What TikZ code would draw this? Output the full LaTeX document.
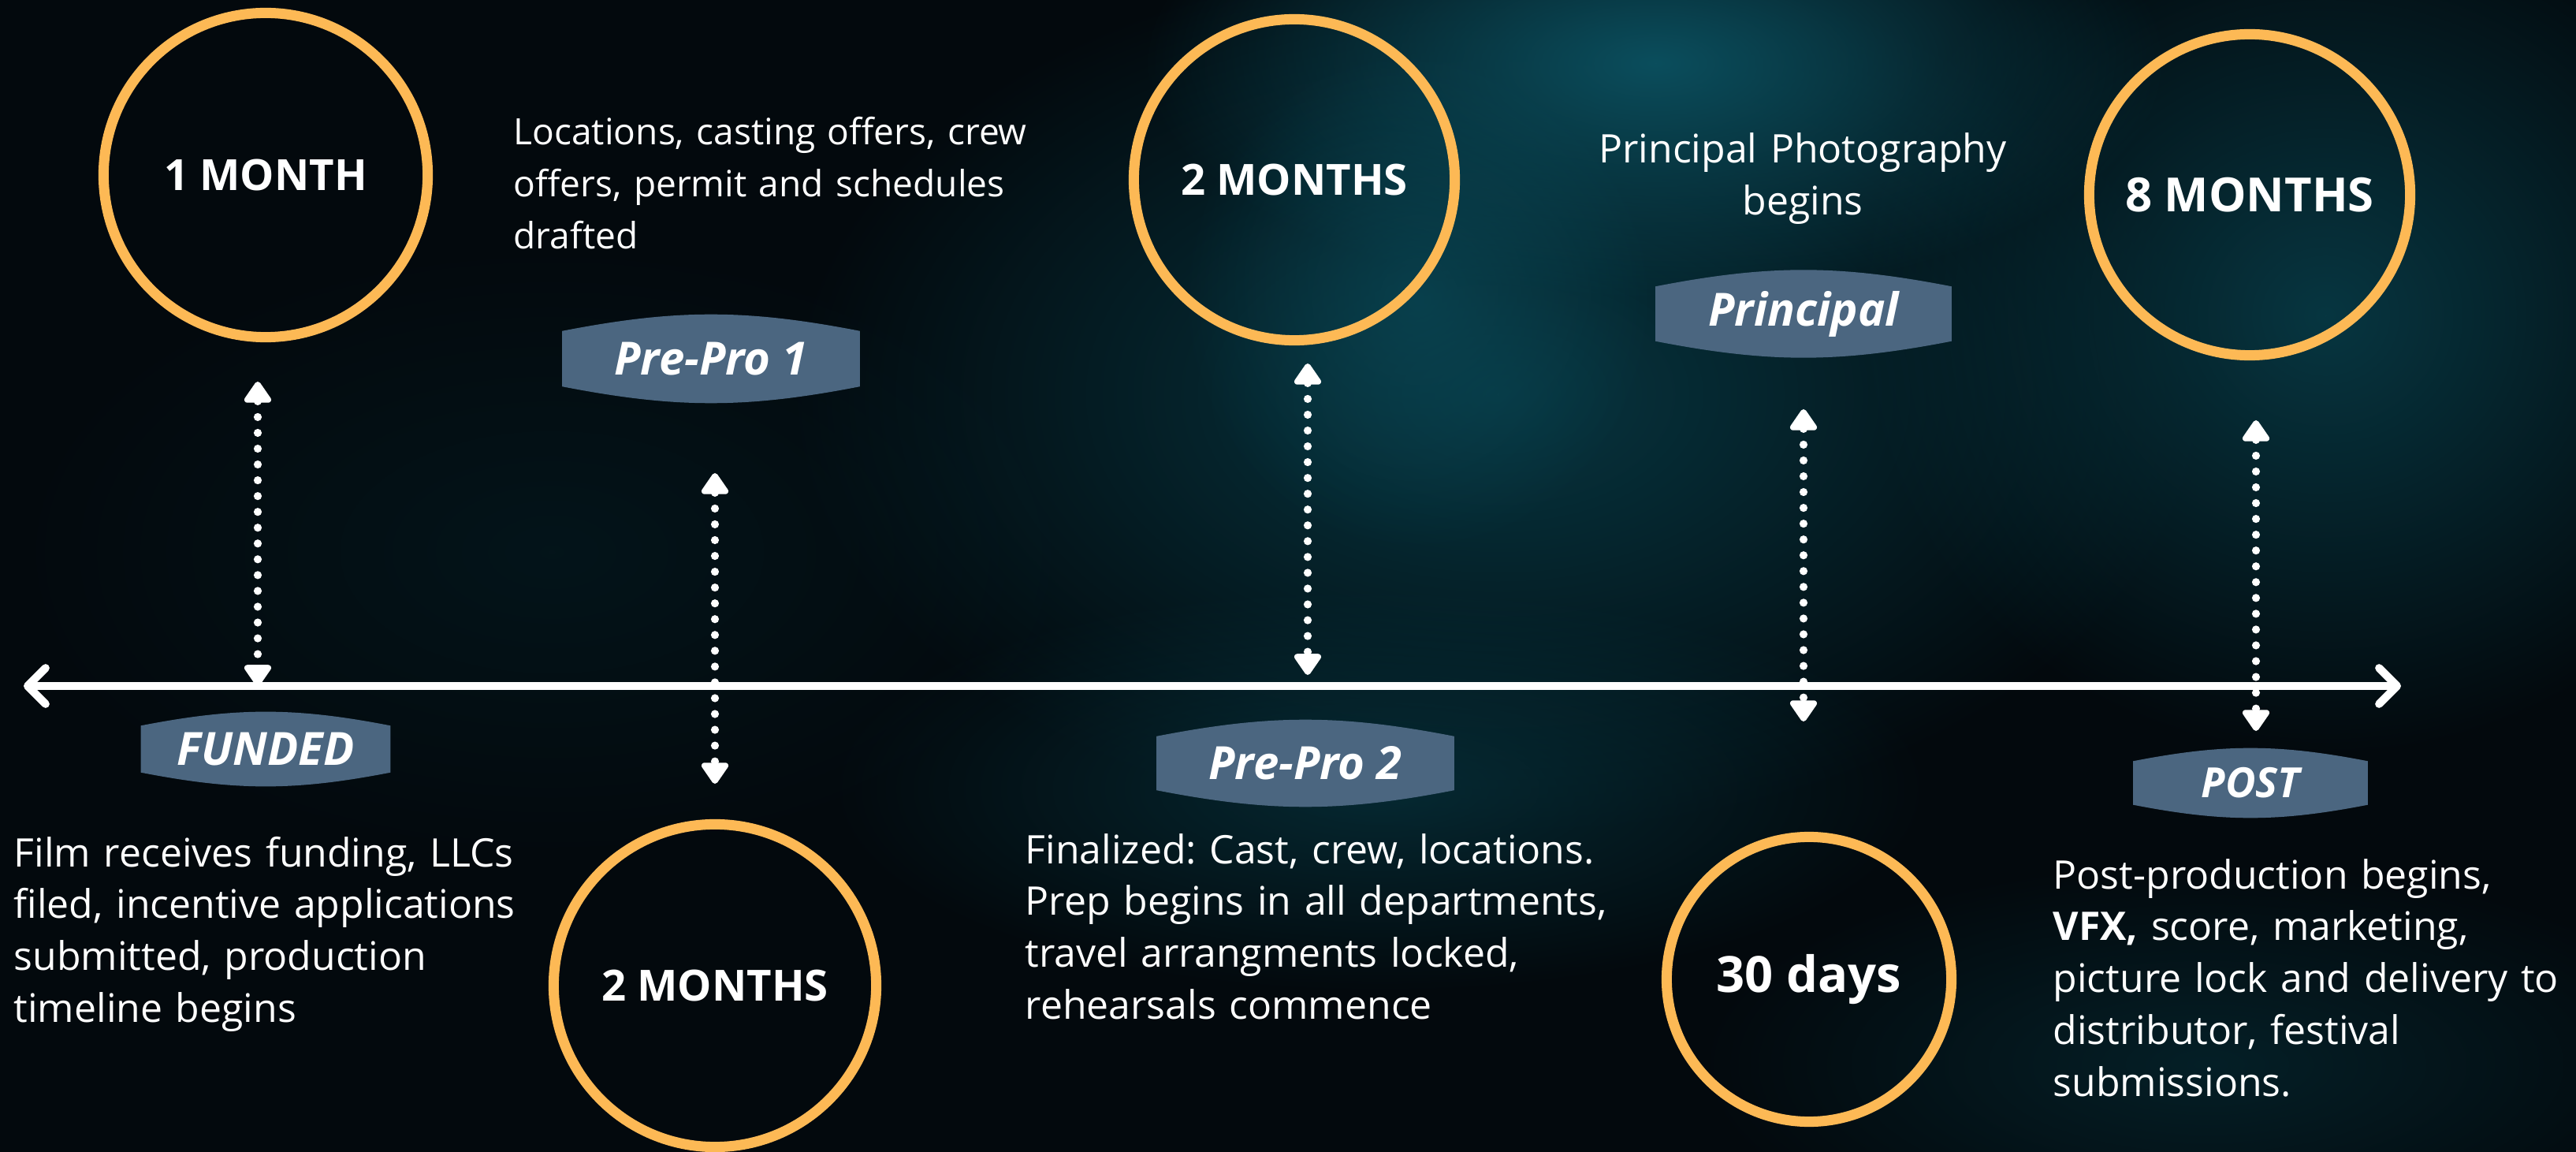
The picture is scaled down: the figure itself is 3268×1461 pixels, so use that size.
\documentclass[tikz,border=0pt]{standalone}
\usepackage{fontspec}
\setmainfont{Open Sans}
\usetikzlibrary{arrows.meta,fadings,backgrounds}
\pgfdeclarelayer{sky}
\pgfsetlayers{sky,background,main}
\tikzfading[name=glow,inner color=transparent!0,outer color=transparent!100]
\frenchspacing

\definecolor{night}{HTML}{03090D}
\definecolor{deepteal}{HTML}{0B4E5D}
\definecolor{midteal}{HTML}{073641}
\definecolor{ring}{HTML}{FDB955}
\definecolor{slate}{HTML}{4B6680}

\tikzset{
  period/.style={circle,draw=ring,line width=3.7pt,minimum size=#1,inner sep=0pt,
    text=white,font=\bfseries\fontsize{15.5pt}{18pt}\selectfont},
  tag/.style 2 args={minimum width=#1,minimum height=#2,inner sep=0pt,text=white,
    font=\bfseries\itshape\fontsize{16.5pt}{18pt}\selectfont},
  blurb/.style={anchor=base west,text width=8cm,align=left,inner sep=0pt,text=white,
    font=\fontsize{14.2pt}{18.7pt}\selectfont},
  link/.style={white,line width=2.9pt,line cap=round,dash pattern=on 0pt off 5.7pt,
    >={Triangle[width=11pt,length=8.5pt,round]},<->},
  timeline/.style={white,line width=2.85pt,line cap=round,
    >={Straight Barb[length=6.5pt,width=13pt,round]},<->},
}

\begin{document}
\begin{tikzpicture}[x=0.01cm,y=-0.01cm]
\useasboundingbox (0,0) rectangle (3268,1461);
\begin{pgfonlayer}{sky}
\begin{scope}
\clip (0,0) rectangle (3268,1461);
\fill[night] (0,0) rectangle (3268,1461);
\fill[midteal,path fading=glow] (1900,500) ellipse (900 and 560);
\fill[midteal,path fading=glow] (2950,400) ellipse (600 and 560);
\fill[midteal,path fading=glow,opacity=.7] (1750,1000) ellipse (700 and 260);
\fill[midteal,path fading=glow,opacity=.5] (2800,1350) ellipse (650 and 260);
\fill[midteal,path fading=glow,opacity=.25] (700,700) ellipse (700 and 400);
\fill[deepteal,path fading=glow] (2100,80) ellipse (650 and 300);
\fill[deepteal,path fading=glow,opacity=.6] (1800,380) ellipse (300 and 320);
\end{scope}
\end{pgfonlayer}

\node[period=4.11cm] (m1) at (337,222) {1 MONTH};
\node[period=4.09cm] (m2) at (907,1250) {2 MONTHS};
\node[period=4.07cm] (m3) at (1642,228) {2 MONTHS};
\node[period=3.61cm,font=\bfseries\fontsize{18pt}{20pt}\selectfont] (d30) at (2295,1242) {30 days};
\node[period=4.07cm,font=\bfseries\fontsize{17pt}{20pt}\selectfont] (m8) at (2854,247) {8 MONTHS};

\node[tag={3.15cm}{.58cm}] (funded) at (337,950) {FUNDED};
\node[tag={3.76cm}{.69cm}] (prepro1) at (902,455) {Pre-Pro 1};
\node[tag={3.76cm}{.67cm}] (prepro2) at (1656,968) {Pre-Pro 2};
\node[tag={3.74cm}{.68cm}] (principal) at (2288,398) {Principal};
\node[tag={2.96cm}{.54cm},font=\bfseries\itshape\fontsize{15pt}{18pt}\selectfont] (post) at (2855,993) {POST};
\begin{scope}[on background layer]
\foreach \t in {funded,prepro1,prepro2,principal,post}
  \fill[slate] (\t.north west) to[bend left=11] (\t.north east) -- (\t.south east)
    to[bend left=11] (\t.south west) -- cycle;
\end{scope}

\node[blurb] (tfunded) at (17,1099) {Film receives funding, LLCs\\filed, incentive applications\\submitted, production\\timeline begins};
\node[blurb,font=\fontsize{13.1pt}{18.7pt}\selectfont] (tprepro1) at (651,184) {Locations, casting offers, crew\\offers, permit and schedules\\drafted};
\node[blurb] (tprepro2) at (1300,1095) {Finalized: Cast, crew, locations.\\Prep begins in all departments,\\travel arrangments locked,\\rehearsals commence};
\node[blurb,anchor=base,align=center] (tprincipal) at (2287,207) {Principal Photography\\begins};
\node[blurb] (tpost) at (2604,1127) {Post-production begins,\\\textbf{VFX,} score, marketing,\\picture lock and delivery to\\distributor, festival\\submissions.};

\coordinate (west) at (30,870);
\coordinate (east) at (3046,870);
\draw[timeline] (west) -- (east);
\foreach \n/\x/\a/\b in {1/327/484/870,2/907/600/994,3/1659/461/856,4/2288/519/915,5/2862/533/927}{
  \coordinate (up\n) at (\x,\a);
  \coordinate (dn\n) at (\x,\b);
  \draw[link] (up\n) -- (dn\n);
}
\end{tikzpicture}
\end{document}
